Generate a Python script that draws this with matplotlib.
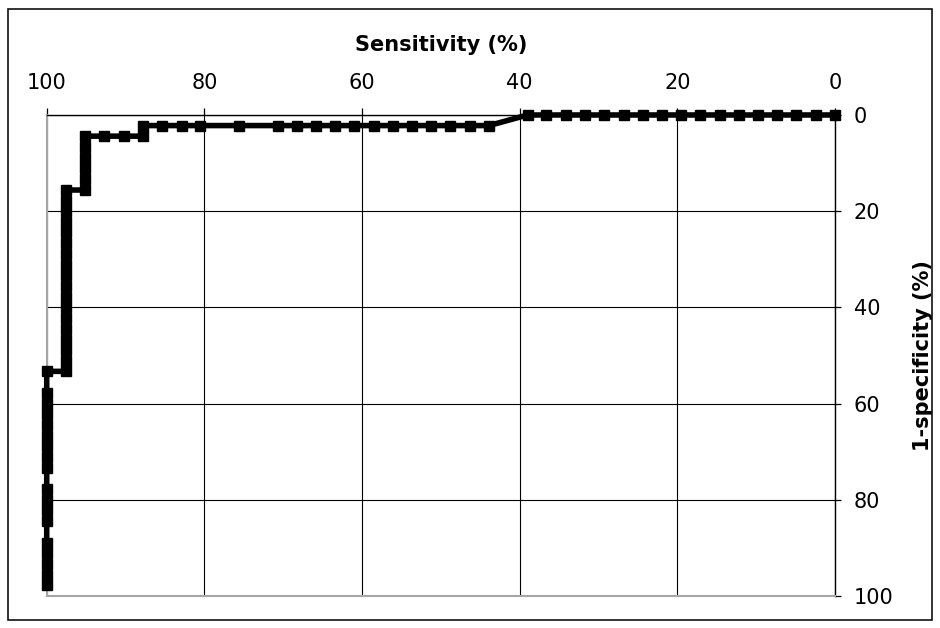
"""
ROC-style step curve: sensitivity (%) vs 1-specificity (%).

Both axes reversed; sensitivity ticks on top, 1-specificity on the right.
"""

import matplotlib

matplotlib.use("Agg")

import matplotlib.pyplot as plt
from matplotlib.patches import Rectangle

# ── data ─────────────────────────────────────────────────────────────────
sensitivity = [
    100.0, 100.0, 100.0, 100.0, 100.0,
    100.0, 100.0, 100.0, 100.0,
    100.0, 100.0, 100.0, 100.0, 100.0, 100.0, 100.0, 100.0,
    100.0,
    97.6, 97.6, 97.6, 97.6, 97.6, 97.6, 97.6, 97.6, 97.6,
    97.6, 97.6, 97.6, 97.6, 97.6, 97.6, 97.6, 97.6, 97.6,
    95.1, 95.1, 95.1, 95.1, 95.1, 95.1,
    92.7, 90.2, 87.8,
    87.8, 85.4, 82.9, 80.5, 75.6, 70.7, 68.3, 65.9, 63.4,
    61.0, 58.5, 56.1, 53.7, 51.2, 48.8, 46.3, 43.9,
    39.0, 36.6, 34.1, 31.7, 29.3, 26.8, 24.4, 22.0, 19.5,
    17.1, 14.6, 12.2, 9.8, 7.3, 4.9, 2.4, 0.0,
]
one_minus_specificity = [
    97.8, 95.6, 93.3, 91.1, 88.9,
    84.4, 82.2, 80.0, 77.8,
    73.3, 71.1, 68.9, 66.7, 64.4, 62.2, 60.0, 57.8,
    53.3,
    53.3, 51.1, 48.9, 46.7, 44.4, 42.2, 40.0, 37.8, 35.6,
    33.3, 31.1, 28.9, 26.7, 24.4, 22.2, 20.0, 17.8, 15.6,
    15.6, 13.3, 11.1, 8.9, 6.7, 4.4,
    4.4, 4.4, 4.4,
    2.2, 2.2, 2.2, 2.2, 2.2, 2.2, 2.2, 2.2, 2.2,
    2.2, 2.2, 2.2, 2.2, 2.2, 2.2, 2.2, 2.2,
    0.0, 0.0, 0.0, 0.0, 0.0, 0.0, 0.0, 0.0, 0.0,
    0.0, 0.0, 0.0, 0.0, 0.0, 0.0, 0.0, 0.0,
]
ticks = [0, 20, 40, 60, 80, 100]

FONT = "DejaVu Sans"
GRAY = "#a6a6a6"


def main() -> None:
    plt.rcParams["font.family"] = [FONT]

    fig = plt.figure(figsize=(9.4, 6.28), dpi=100)
    ax = fig.add_axes([0.0497, 0.0510, 0.8386, 0.7659])

    # outer chart frame
    fig.patches.append(Rectangle(
        (8 / 940, 1 - 620 / 628), 924 / 940, 611 / 628,
        transform=fig.transFigure, fill=False,
        edgecolor="#111111", lw=1.2,
    ))

    ax.plot(
        sensitivity, one_minus_specificity,
        color="black", lw=4.0, marker="s", ms=7, mec="black",
        solid_joinstyle="miter", zorder=3, clip_on=False,
    )

    ax.set_xlim(100, 0)
    ax.set_ylim(100, 0)
    ax.set_xticks(ticks)
    ax.set_yticks(ticks)

    ax.xaxis.tick_top()
    ax.xaxis.set_label_position("top")
    ax.yaxis.tick_right()
    ax.yaxis.set_label_position("right")

    ax.grid(True, color="black", lw=0.8)
    ax.set_axisbelow(True)

    for side in ("top", "right"):
        ax.spines[side].set_color("black")
        ax.spines[side].set_linewidth(1.0)
    for side in ("left", "bottom"):
        ax.spines[side].set_color(GRAY)
        ax.spines[side].set_linewidth(1.5)

    ax.tick_params(axis="x", direction="out", length=5, width=0.9,
                   pad=10.5, labelsize=15)
    ax.tick_params(axis="y", direction="out", length=4.5, width=0.9,
                   pad=9, labelsize=15)

    ax.set_xlabel("Sensitivity (%)", fontsize=15, fontweight="bold",
                  labelpad=16)
    ax.set_ylabel("1-specificity (%)", fontsize=15, fontweight="bold",
                  labelpad=14, rotation=90)

    fig.savefig("out.png", dpi=100)


if __name__ == "__main__":
    main()
